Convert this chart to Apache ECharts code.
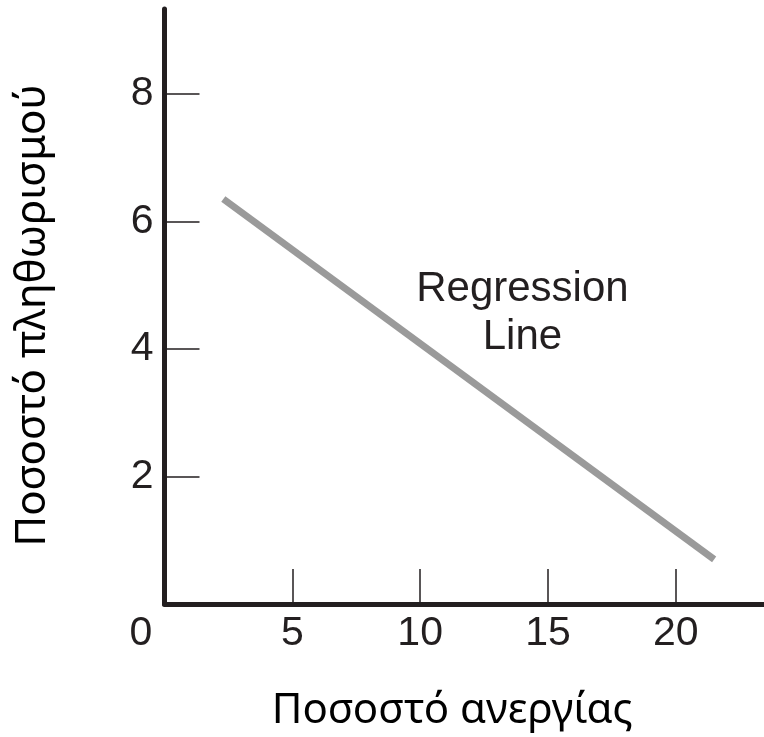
<!DOCTYPE html>
<html>
<head>
<meta charset="utf-8">
<script src="https://cdn.jsdelivr.net/npm/echarts@6/dist/echarts.min.js"></script>
<style>
html,body{margin:0;padding:0;background:#fff;}
#chart{width:764px;height:737px;}
</style>
</head>
<body>
<div id="chart"></div>
<script>
// Data
const xTickValues = [5, 10, 15, 20];
const xLabelValues = [0, 5, 10, 15, 20];
const yTickValues = [2, 4, 6, 8];
const xAxisTitle = 'Ποσοστό ανεργίας';
const yAxisTitle = 'Ποσοστό πληθωρισμού';
const regressionX = [2.3, 21.5];
const regressionY = [6.35, 0.70];
const annotationText = 'Regression\nLine';
const annotationAt = [14.0, 4.55];

const ink = '#231f20';
const tickFont = '"Liberation Sans", Arial, sans-serif';
const titleFont = '"Noto Sans", sans-serif';

const chart = echarts.init(document.getElementById('chart'), null, {renderer: 'canvas'});
const lineData = regressionX.map((x, i) => [x, regressionY[i]]);

chart.setOption({
  animation: false,
  backgroundColor: '#ffffff',
  grid: {left: 164.5, right: 0, top: 9, bottom: 133, containLabel: false},
  xAxis: {
    type: 'value', min: 0, max: 23.45,
    name: xAxisTitle, nameLocation: 'middle', nameGap: 86,
    nameTextStyle: {fontFamily: titleFont, fontSize: 42, color: '#000', padding: [0, 24, 0, 0]},
    axisLine: {show: true, onZero: false, lineStyle: {color: ink, width: 5}},
    axisTick: {show: true, inside: true, length: 35, customValues: xTickValues, lineStyle: {color: ink, width: 1.5}},
    axisLabel: {
      show: true, customValues: xLabelValues, margin: 9,
      fontFamily: tickFont, fontSize: 41, color: ink,
      formatter: v => v === 0 ? '{z|0}' : String(v),
      rich: {z: {fontFamily: tickFont, fontSize: 41, color: ink, padding: [0, 47, 0, 0]}}
    },
    splitLine: {show: false}
  },
  yAxis: {
    type: 'value', min: 0, max: 9.33,
    name: yAxisTitle, nameLocation: 'middle', nameGap: 110, nameRotate: 90,
    nameTextStyle: {fontFamily: titleFont, fontSize: 42, color: '#000', padding: [0, 18, 0, 0]},
    axisLine: {show: true, onZero: false, lineStyle: {color: ink, width: 5}},
    axisTick: {show: true, inside: true, length: 35, customValues: yTickValues, lineStyle: {color: ink, width: 1.5}},
    axisLabel: {show: true, customValues: yTickValues, margin: 11, fontFamily: tickFont, fontSize: 41, color: ink},
    splitLine: {show: false}
  },
  series: [
    {
      type: 'line', data: lineData, symbol: 'none', silent: true,
      lineStyle: {color: '#9a9a9a', width: 7, cap: 'butt'}
    },
    {
      type: 'scatter', data: [annotationAt], symbolSize: 0, silent: true,
      itemStyle: {opacity: 1},
      label: {
        show: true, position: 'inside', formatter: annotationText, opacity: 1,
        fontFamily: tickFont, fontSize: 42, lineHeight: 48, color: ink,
        textBorderWidth: 0, align: 'center', verticalAlign: 'middle'
      }
    }
  ]
});
</script>
</body>
</html>
